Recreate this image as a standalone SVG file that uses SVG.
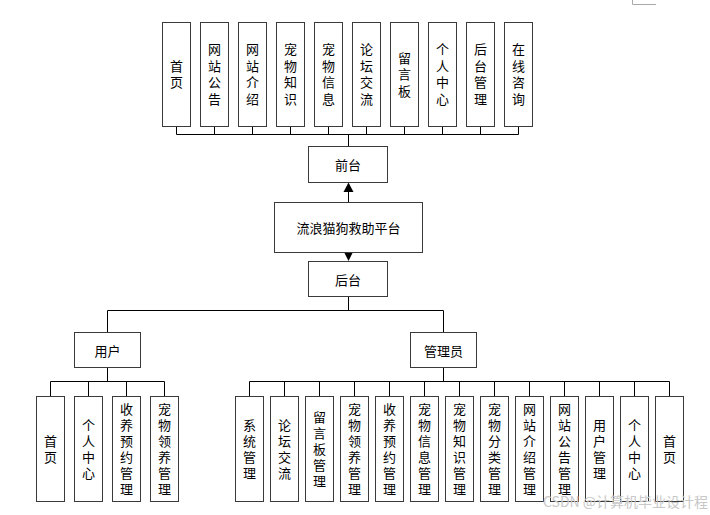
<svg xmlns="http://www.w3.org/2000/svg" width="710" height="515" viewBox="0 0 710 515">
<defs>
<style>
.box{fill:#fff;stroke:#3a3a3a;stroke-width:1}
.t{font-family:"Noto Sans CJK SC","Noto Sans",sans-serif;font-size:13px;fill:#000;text-anchor:middle;dominant-baseline:central}
.v{font-family:"Noto Sans CJK SC","Noto Sans",sans-serif;font-size:13px;fill:#000;text-anchor:middle;writing-mode:vertical-rl;text-orientation:upright;letter-spacing:3px}
.vt{letter-spacing:3.5px}
.ln{stroke:#000;stroke-width:1;fill:none}
.wm{font-family:"Noto Sans CJK SC","Noto Sans",sans-serif;font-size:14px;fill:#c8c8c8}
</style>
</defs>
<rect x="0" y="0" width="710" height="515" fill="#fff"/>
<path d="M632.5 0 V4.5 H656" stroke="#aaa" fill="none"/>

<g id="connectors">
<path class="ln" d="M176.5 127 V134.5 M214.5 127 V134.5 M252.5 127 V134.5 M290.5 127 V134.5 M328.5 127 V134.5 M366.5 127 V134.5 M404.5 127 V134.5 M442.5 127 V134.5 M480.5 127 V134.5 M518.5 127 V134.5 M176.5 134.5 H518.5 M348.5 134.5 V146"/>
<path class="ln" d="M348.5 202 V191"/>
<polygon points="348.5,182.5 343.5,192 353.5,192" fill="#000"/>
<polygon points="348.5,261 344.5,253 352.5,253" fill="#000"/>
<path class="ln" d="M348.5 296 V310.5 M107.5 310.5 H443.5 M107.5 310.5 V332 M443.5 310.5 V332"/>
<path class="ln" d="M107.5 367 V381.5 M50.5 381.5 H164.5 M50.5 381.5 V396 M88.5 381.5 V396 M126.5 381.5 V396 M164.5 381.5 V396"/>
<path class="ln" d="M443.5 367 V381.5 M249.5 381.5 H669.5 M249.5 381.5 V396 M284.5 381.5 V396 M319.5 381.5 V396 M354.5 381.5 V396 M389.5 381.5 V396 M424.5 381.5 V396 M459.5 381.5 V396 M494.5 381.5 V396 M529.5 381.5 V396 M564.5 381.5 V396 M599.5 381.5 V396 M634.5 381.5 V396 M669.5 381.5 V396"/>
</g>

<g id="top-0"><rect class="box" x="162.5" y="22.5" width="28" height="104"/><text class="v vt" x="176.5" y="76">首页</text></g>
<g id="top-1"><rect class="box" x="200.5" y="22.5" width="28" height="104"/><text class="v vt" x="214.5" y="76">网站公告</text></g>
<g id="top-2"><rect class="box" x="238.5" y="22.5" width="28" height="104"/><text class="v vt" x="252.5" y="76">网站介绍</text></g>
<g id="top-3"><rect class="box" x="276.5" y="22.5" width="28" height="104"/><text class="v vt" x="290.5" y="76">宠物知识</text></g>
<g id="top-4"><rect class="box" x="314.5" y="22.5" width="28" height="104"/><text class="v vt" x="328.5" y="76">宠物信息</text></g>
<g id="top-5"><rect class="box" x="352.5" y="22.5" width="28" height="104"/><text class="v vt" x="366.5" y="76">论坛交流</text></g>
<g id="top-6"><rect class="box" x="390.5" y="22.5" width="28" height="104"/><text class="v vt" x="404.5" y="76">留言板</text></g>
<g id="top-7"><rect class="box" x="428.5" y="22.5" width="28" height="104"/><text class="v vt" x="442.5" y="76">个人中心</text></g>
<g id="top-8"><rect class="box" x="466.5" y="22.5" width="28" height="104"/><text class="v vt" x="480.5" y="76">后台管理</text></g>
<g id="top-9"><rect class="box" x="504.5" y="22.5" width="28" height="104"/><text class="v vt" x="518.5" y="76">在线咨询</text></g>

<g id="qiantai"><rect class="box" x="308.5" y="146.5" width="79" height="36"/><text class="t" x="348" y="164.5">前台</text></g>
<g id="platform"><rect class="box" x="274.5" y="202.5" width="148" height="50"/><text class="t" x="348.5" y="227.5">流浪猫狗救助平台</text></g>
<g id="houtai"><rect class="box" x="308.5" y="261.5" width="79" height="35"/><text class="t" x="348" y="279">后台</text></g>
<g id="user"><rect class="box" x="74.5" y="332.5" width="66" height="35"/><text class="t" x="107.5" y="350">用户</text></g>
<g id="admin"><rect class="box" x="410.5" y="332.5" width="66" height="35"/><text class="t" x="443.5" y="350">管理员</text></g>

<g id="u-0"><rect class="box" x="36.5" y="396.5" width="28" height="105"/><text class="v" x="50.5" y="450.5">首页</text></g>
<g id="u-1"><rect class="box" x="74.5" y="396.5" width="28" height="105"/><text class="v" x="88.5" y="450.5">个人中心</text></g>
<g id="u-2"><rect class="box" x="112.5" y="396.5" width="28" height="105"/><text class="v" x="126.5" y="450.5">收养预约管理</text></g>
<g id="u-3"><rect class="box" x="150.5" y="396.5" width="28" height="105"/><text class="v" x="164.5" y="450.5">宠物领养管理</text></g>

<g id="a-0"><rect class="box" x="235.5" y="396.5" width="28" height="105"/><text class="v" x="249.5" y="450.5">系统管理</text></g>
<g id="a-1"><rect class="box" x="270.5" y="396.5" width="28" height="105"/><text class="v" x="284.5" y="450.5">论坛交流</text></g>
<g id="a-2"><rect class="box" x="305.5" y="396.5" width="28" height="105"/><text class="v" x="319.5" y="450.5">留言板管理</text></g>
<g id="a-3"><rect class="box" x="340.5" y="396.5" width="28" height="105"/><text class="v" x="354.5" y="450.5">宠物领养管理</text></g>
<g id="a-4"><rect class="box" x="375.5" y="396.5" width="28" height="105"/><text class="v" x="389.5" y="450.5">收养预约管理</text></g>
<g id="a-5"><rect class="box" x="410.5" y="396.5" width="28" height="105"/><text class="v" x="424.5" y="450.5">宠物信息管理</text></g>
<g id="a-6"><rect class="box" x="445.5" y="396.5" width="28" height="105"/><text class="v" x="459.5" y="450.5">宠物知识管理</text></g>
<g id="a-7"><rect class="box" x="480.5" y="396.5" width="28" height="105"/><text class="v" x="494.5" y="450.5">宠物分类管理</text></g>
<g id="a-8"><rect class="box" x="515.5" y="396.5" width="28" height="105"/><text class="v" x="529.5" y="450.5">网站介绍管理</text></g>
<g id="a-9"><rect class="box" x="550.5" y="396.5" width="28" height="105"/><text class="v" x="564.5" y="450.5">网站公告管理</text></g>
<g id="a-10"><rect class="box" x="585.5" y="396.5" width="28" height="105"/><text class="v" x="599.5" y="450.5">用户管理</text></g>
<g id="a-11"><rect class="box" x="620.5" y="396.5" width="28" height="105"/><text class="v" x="634.5" y="450.5">个人中心</text></g>
<g id="a-12"><rect class="box" x="655.5" y="396.5" width="28" height="105"/><text class="v" x="669.5" y="450.5">首页</text></g>

<text class="wm" x="543" y="507">CSDN @计算机毕业设计程</text>
</svg>
